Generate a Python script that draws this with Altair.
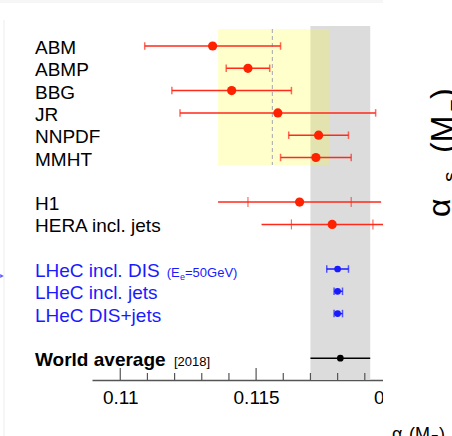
import altair as alt
import pandas as pd

# ---------------- data ----------------
rows = ["ABM", "ABMP", "BBG", "JR", "NNPDF", "MMHT", "gap1",
        "H1", "HERA incl. jets", "gap2",
        "LHeC incl. DIS", "LHeC incl. jets", "LHeC DIS+jets", "gap3",
        "World average"]

names = ["ABM", "ABMP", "BBG", "JR", "NNPDF", "MMHT",
         "H1", "HERA incl. jets",
         "LHeC incl. DIS", "LHeC incl. jets", "LHeC DIS+jets",
         "World average"]
groups = ["pdf"] * 6 + ["hera"] * 2 + ["lhec"] * 3 + ["wa"]
central = [0.1134, 0.1147, 0.1141, 0.1158, 0.1173, 0.1172,
           0.1166, 0.1178,
           0.1180, 0.1180, 0.1180,
           0.1181]
err_lo = [0.1109, 0.1139, 0.1119, 0.1122, 0.1162, 0.1159,
          0.1136, 0.1152,
          0.1176, 0.11787, 0.11787,
          0.1170]
err_hi = [0.1159, 0.1155, 0.1163, 0.1194, 0.1184, 0.1185,
          0.1196, 0.1204,
          0.1184, 0.11818, 0.11818,
          0.1192]
# inner (experimental) uncertainties for H1 / HERA
inner_names = ["H1", "HERA incl. jets"]
inner_lo = [0.1147, 0.1163]
inner_hi = [0.1185, 0.1193]

# bands
world_band = [0.1170, 0.1192]
pdf_band = [0.1136, 0.1177]
pdf_mean = [0.1156]

major_ticks = [0.11, 0.115]
minor_ticks = [0.111, 0.112, 0.113, 0.114, 0.116, 0.117, 0.118, 0.119]
tick_labels = [0.11, 0.115, 0.12]

df = pd.DataFrame({"name": names, "group": groups, "c": central,
                   "lo": err_lo, "hi": err_hi})
df_inner = pd.DataFrame({"name": inner_names, "ilo": inner_lo, "ihi": inner_hi})
df_wband = pd.DataFrame({"a": [world_band[0]], "b": [world_band[1]]})
df_pband = pd.DataFrame({"a": [pdf_band[0]], "b": [pdf_band[1]]})
df_pmean = pd.DataFrame({"m": pdf_mean})
df_major = pd.DataFrame({"t": major_ticks})
df_minor = pd.DataFrame({"t": minor_ticks})

FONT = "Liberation Sans"
RED = "#ff2a1a"
BLUE = "#1a1aff"

xscale = alt.Scale(domain=[0.10896, 0.12221], nice=False, zero=False)
yscale = alt.Scale(type="point", domain=rows, range=[46, 358.2], padding=0)
gcolor = alt.Color("group:N", legend=None,
                   scale=alt.Scale(domain=["pdf", "hera", "lhec", "wa"],
                                   range=[RED, RED, BLUE, "#000000"]))

base = alt.Chart(df)

# decoration
top_strip = alt.Chart(df_wband).mark_rect(color="#f6f6f6").encode(
    x=alt.value(-92), x2=alt.value(291), y=alt.value(0), y2=alt.value(3))
left_line = alt.Chart(df_wband).mark_rule(color="#ececec", strokeWidth=1).encode(
    x=alt.value(-88), y=alt.value(20), y2=alt.value(436))

gray = alt.Chart(df_wband).mark_rect(color="#dcdcdc").encode(
    x=alt.X("a:Q", scale=xscale, title=None,
            axis=alt.Axis(values=tick_labels, format=".3~f", ticks=False, tickSize=0,
                          grid=False, domainColor="#555555", domainWidth=1.5,
                          labelFontSize=19, labelFont=FONT, labelColor="black",
                          labelPadding=8, labelFlush=False, labelOverlap=False)),
    x2="b:Q", y=alt.value(26), y2=alt.value(380))
yellow = alt.Chart(df_pband).mark_rect(color="#ffff00", opacity=0.2).encode(
    x=alt.X("a:Q", scale=xscale), x2="b:Q", y=alt.value(29), y2=alt.value(165))
dashed = alt.Chart(df_pmean).mark_rule(color="#b4b4b4", strokeWidth=1.2,
                                       strokeDash=[4, 3]).encode(
    x=alt.X("m:Q", scale=xscale), y=alt.value(29), y2=alt.value(165))

rules = base.mark_rule(strokeWidth=1.5).encode(
    x=alt.X("lo:Q", scale=xscale), x2="hi:Q",
    y=alt.Y("name:N", scale=yscale, axis=None), color=gcolor)

caps_df = base.transform_filter("datum.group == 'pdf' || datum.group == 'lhec'")
caps_lo = caps_df.mark_tick(thickness=1.5, size=7.5).encode(
    x=alt.X("lo:Q", scale=xscale), y=alt.Y("name:N", scale=yscale, axis=None),
    color=gcolor)
caps_hi = caps_df.mark_tick(thickness=1.5, size=7.5).encode(
    x=alt.X("hi:Q", scale=xscale), y=alt.Y("name:N", scale=yscale, axis=None),
    color=gcolor)
inner_a = alt.Chart(df_inner).mark_tick(thickness=1.2, size=10, color=RED).encode(
    x=alt.X("ilo:Q", scale=xscale), y=alt.Y("name:N", scale=yscale, axis=None))
inner_b = alt.Chart(df_inner).mark_tick(thickness=1.2, size=10, color=RED).encode(
    x=alt.X("ihi:Q", scale=xscale), y=alt.Y("name:N", scale=yscale, axis=None))

dots_red = base.transform_filter("datum.group == 'pdf' || datum.group == 'hera'").mark_circle(
    size=85, opacity=1, color="#ff2200").encode(
    x=alt.X("c:Q", scale=xscale), y=alt.Y("name:N", scale=yscale, axis=None))
dots_other = base.transform_filter("datum.group == 'lhec' || datum.group == 'wa'").mark_circle(
    size=45, opacity=1).encode(
    x=alt.X("c:Q", scale=xscale), y=alt.Y("name:N", scale=yscale, axis=None),
    color=gcolor)

cover = alt.Chart(df_wband).mark_rect(color="white").encode(
    x=alt.value(291), x2=alt.value(370), y=alt.value(-5), y2=alt.value(414))

major = alt.Chart(df_major).mark_rule(color="#555555", strokeWidth=1.2).encode(
    x=alt.X("t:Q", scale=xscale), y=alt.value(368), y2=alt.value(380))
minor = alt.Chart(df_minor).mark_rule(color="#555555", strokeWidth=1.2).encode(
    x=alt.X("t:Q", scale=xscale), y=alt.value(373), y2=alt.value(380))

labels_black = base.transform_filter("datum.group == 'pdf' || datum.group == 'hera'").mark_text(
    align="left", baseline="alphabetic", dy=8, fontSize=19, font=FONT,
    color="black").encode(
    x=alt.value(-57), y=alt.Y("name:N", scale=yscale, axis=None), text="name:N")
labels_blue = base.transform_filter("datum.group == 'lhec'").mark_text(
    align="left", baseline="alphabetic", dy=8, fontSize=19, font=FONT,
    color=BLUE).encode(
    x=alt.value(-57), y=alt.Y("name:N", scale=yscale, axis=None), text="name:N")
wa_label = base.transform_filter("datum.group == 'wa'").mark_text(
    align="left", baseline="alphabetic", dy=8, fontSize=19, font=FONT,
    fontWeight="bold", color="black").encode(
    x=alt.value(-57), y=alt.Y("name:N", scale=yscale, axis=None), text="name:N")

def small(txt, row, xpix, size, dy, color):
    d = pd.DataFrame({"name": [row], "t": [txt]})
    return alt.Chart(d).mark_text(align="left", baseline="alphabetic", dy=dy,
                                  fontSize=size, font=FONT, color=color).encode(
        x=alt.value(xpix), y=alt.Y("name:N", scale=yscale, axis=None), text="t:N")

extra = [
    small("(E", "LHeC incl. DIS", 74.7, 13, 8, BLUE),
    small("e", "LHeC incl. DIS", 88, 9, 11, BLUE),
    small("=50GeV)", "LHeC incl. DIS", 93, 13, 8, BLUE),
    small("[2018]", "World average", 82, 13, 8, "#000000"),
]

def free_text(txt, xpix, ypix, size, angle=0):
    d = pd.DataFrame({"t": [txt]})
    return alt.Chart(d).mark_text(align="left", baseline="alphabetic", fontSize=size,
                                  font=FONT, color="black", angle=angle).encode(
        x=alt.value(xpix), y=alt.value(ypix), text="t:N")

titles = [
    # bottom axis title
    free_text("α", 300, 440, 18),
    free_text("s", 311, 444, 12),
    free_text("(M", 317, 440, 18),
    free_text("Z", 339, 444, 12),
    free_text(")", 347, 440, 18),
    # rotated title of neighbouring panel
    free_text("α", 358, 217, 32, 270),
    free_text("s", 365, 182, 21, 270),
    free_text("(M", 361, 153, 32, 270),
    free_text("Z", 373, 112, 21, 270),
    free_text(")", 361, 99, 32, 270),
]

arrow = alt.Chart(df_wband).mark_point(shape="triangle-right", filled=True,
                                       color=BLUE, size=18).encode(
    x=alt.value(-90), y=alt.value(276))

chart = alt.layer(
    top_strip, left_line, gray, yellow, dashed,
    rules, caps_lo, caps_hi, inner_a, inner_b, dots_red, dots_other,
    cover, major, minor, labels_black, labels_blue, wa_label, *extra, *titles, arrow
).properties(
    width=360, height=380,
    padding={"left": 92, "top": 0, "right": 0, "bottom": 56},
    autosize=alt.AutoSizeParams(type="none"),
).configure_view(stroke=None)

chart.save("out.html", embed_options={"renderer": "svg", "actions": False})
